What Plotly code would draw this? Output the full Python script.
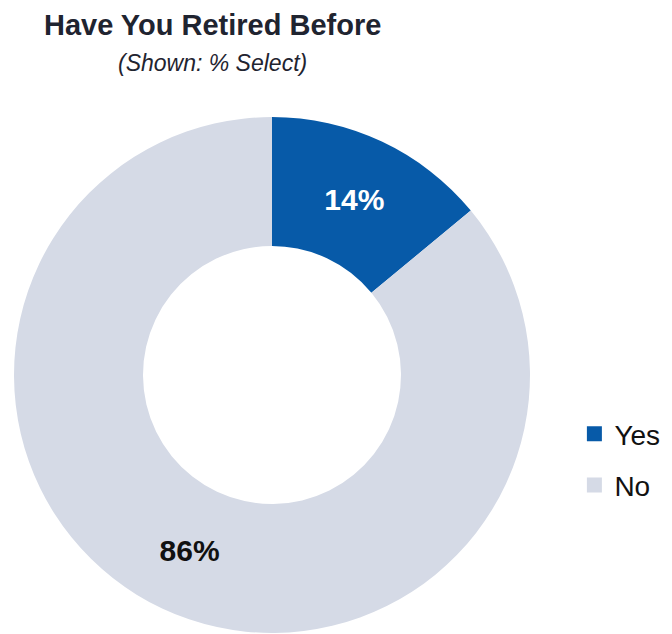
import plotly.graph_objects as go

labels = ["Yes", "No"]
values = [14, 86]
colors = ["#075AA8", "#D5DAE6"]
text_colors = ["#FFFFFF", "#111111"]

W, H = 664, 626
FONT = "Liberation Sans, Arial, sans-serif"

fig = go.Figure()
fig.add_trace(go.Pie(
    labels=labels,
    values=values,
    hole=0.5,
    sort=False,
    direction="clockwise",
    rotation=0,
    marker=dict(colors=colors, line=dict(width=0)),
    texttemplate="%{value}%",
    textposition="inside",
    insidetextorientation="horizontal",
    textfont=dict(family=FONT, size=30, color=text_colors, weight="bold"),
    domain=dict(x=[6/W, 522/W], y=[1/H, 517/H]),
    hoverinfo="label+percent",
    showlegend=False,
))

# legend entries (one per category, same colours as the slices)
for lab, col in zip(labels, colors):
    fig.add_trace(go.Scatter(
        x=[None], y=[None], mode="markers", name=lab, legendgroup=lab,
        marker=dict(symbol="square", size=15, color=col),
        showlegend=True,
    ))

fig.update_layout(
    width=W, height=H,
    margin=dict(l=0, r=0, t=0, b=0),
    paper_bgcolor="white",
    plot_bgcolor="white",
    xaxis=dict(visible=False),
    yaxis=dict(visible=False),
    showlegend=True,
    legend=dict(
        x=0.853, y=1 - 451.5/H, xanchor="left", yanchor="middle",
        font=dict(family=FONT, size=28, color="#111111"),
        itemwidth=30, tracegroupgap=12,
        bgcolor="rgba(0,0,0,0)",
    ),
    annotations=[
        dict(text="<b>Have You Retired Before</b>", x=204/W, y=1-17/H,
             xref="paper", yref="paper", showarrow=False, xanchor="center", yanchor="middle",
             font=dict(family=FONT, size=29, color="#1F2430")),
        dict(text="<i>(Shown: % Select)</i>", x=204/W, y=1-55/H,
             xref="paper", yref="paper", showarrow=False, xanchor="center", yanchor="middle",
             font=dict(family=FONT, size=23, color="#1F2430")),
    ],
)

fig.write_html("out.html")
